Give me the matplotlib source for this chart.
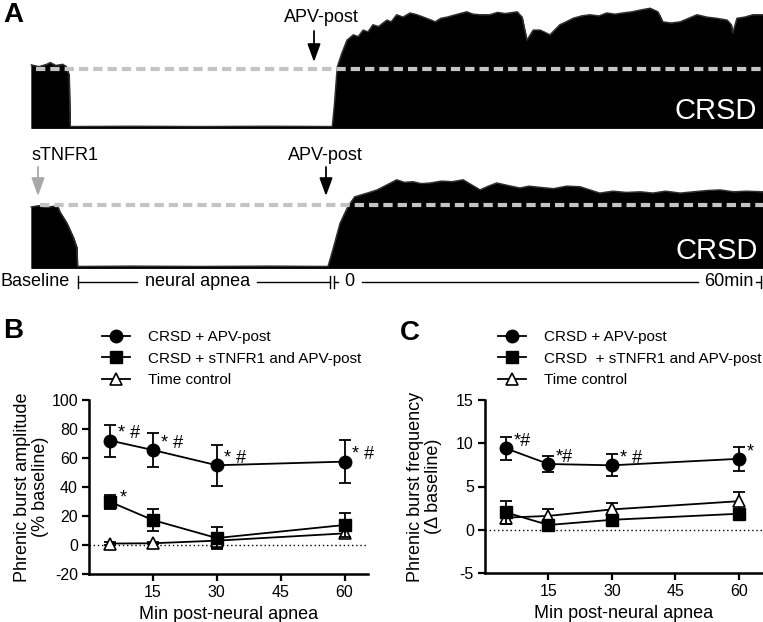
import matplotlib
matplotlib.use('Agg')
import matplotlib.pyplot as plt
from matplotlib.lines import Line2D

plt.rcParams['font.family'] = ['Liberation Sans', 'DejaVu Sans']
plt.rcParams['lines.scale_dashes'] = False
plt.rcParams['axes.unicode_minus'] = False

# ---------------- Panel A: integrated phrenic traces (time in min, amplitude in % baseline)
TOP_T = [-44.1, -43.0, -41.9, -41.4, -40.6, -39.6, -39.1, -38.7, -38.55,
         -38.4, -30.0, -20.0, -10.0, -1.2,
         -1.1, -0.8, -0.4, 0.2, 1.0, 1.9, 2.6, 3.3, 4.0, 4.7, 5.5, 6.7, 7.3, 8.1, 9.0,
         10.0, 11.0, 11.9, 12.8, 13.6, 14.4, 15.3, 16.5, 18.1, 19.0, 20.0, 21.4, 22.5,
         23.6, 25.3, 26.0, 26.5, 26.7, 27.6, 28.6, 30.0, 31.4, 32.3, 33.3, 34.5, 35.7,
         37.0, 38.1, 39.3, 40.4, 41.7, 42.9, 44.3, 45.4, 45.8, 46.1, 47.3, 48.6, 49.8,
         51.0, 52.4, 53.8, 55.3, 55.9, 56.1, 56.7, 57.8, 59.0, 60.4]
TOP_AMP = [107, 104, 108, 111, 106, 108, 104, 90, 3,
           2.5, 3, 2.5, 3, 2.5,
           3, 40, 103, 125, 149, 158, 155, 166, 163, 175, 172, 183, 180, 192, 188,
           195, 192, 188, 184, 180, 186, 188, 192, 197, 193, 192, 192, 196,
           194, 197, 188, 160, 149, 166, 166, 158, 175, 180, 186, 190, 192,
           190, 195, 193, 195, 197, 200, 203, 197, 188, 180, 178, 180, 186,
           192, 188, 186, 183, 175, 161, 186, 188, 192, 192]

BOT_T = [-44.1, -43.0, -42.0, -41.0, -40.3, -40.0, -39.0, -38.1, -37.6, -37.5,
         -37.4, -30.0, -20.0, -10.0, -1.8,
         -1.7, -1.0, 0.0, 1.1, 2.1, 3.0, 3.9, 5.3, 6.7, 8.1, 9.2, 10.4, 11.6, 12.9,
         14.5, 16.0, 17.6, 18.8, 20.0, 21.2, 22.4, 24.0, 25.7, 27.0, 28.6, 30.5,
         32.4, 34.3, 35.7, 37.1, 39.0, 40.9, 42.9, 44.7, 46.5, 48.6, 50.5, 52.4,
         54.3, 56.2, 58.1, 60.4]
BOT_AMP = [97, 99, 96, 98, 97, 89, 71, 49, 33, 2.5,
           2.5, 3, 2.5, 3, 2.5,
           3, 30, 71, 97, 113, 116, 119, 124, 132, 140, 136, 137, 134, 135,
           138, 137, 140, 132, 124, 130, 135, 131, 127, 130, 128, 126,
           130, 129, 124, 119, 122, 120, 121, 119, 122, 119, 121, 123,
           124, 121, 122, 121]
BASELINE_LEVEL = 100

# ---------------- Panels B and C
MINUTES = [5, 15, 30, 60]
SERIES_LABELS_B = ['CRSD + APV-post', 'CRSD + sTNFR1 and APV-post', 'Time control']
SERIES_LABELS_C = ['CRSD + APV-post', 'CRSD  + sTNFR1 and APV-post', 'Time control']

AMP_APV = [72, 65.5, 55, 57.5]
AMP_APV_ERR = [11, 12, 14, 15]
AMP_STNFR1 = [29.7, 17.2, 4.8, 13.8]
AMP_STNFR1_ERR = [5, 7.5, 7.6, 8.3]
AMP_TC = [1.0, 1.2, 3.0, 8.0]
AMP_TC_ERR = [0.8, 0.8, 5.0, 2.5]
AMP_SIG_APV = ['* #', '* #', '* #', '* #']
AMP_SIG_STNFR1 = ['*', '', '', '']

FREQ_APV = [9.4, 7.6, 7.45, 8.2]
FREQ_APV_ERR = [1.3, 0.9, 1.25, 1.4]
FREQ_STNFR1 = [2.0, 0.55, 1.15, 1.85]
FREQ_STNFR1_ERR = [1.3, 0.4, 0.4, 0.4]
FREQ_TC = [1.4, 1.6, 2.35, 3.3]
FREQ_TC_ERR = [0.6, 0.75, 0.75, 1.1]
FREQ_SIG_APV = ['*#', '*#', '* #', '*']
FREQ_SIG_STNFR1 = ['', '', '', '']

X_TICKS = [15, 30, 45, 60]
AMP_TICKS = [-20, 0, 20, 40, 60, 80, 100]
FREQ_TICKS = [-5, 0, 5, 10, 15]

W, H = 763, 622
fig = plt.figure(figsize=(W / 100, H / 100), dpi=100)


def fr(x0, y0, x1, y1):
    return [x0 / W, 1 - y1 / H, (x1 - x0) / W, (y1 - y0) / H]


T_LEFT, T_RIGHT = -340 / 7, 423 / 7


def trace_axes(box, t, amp, ylo, yhi, dash_start):
    ax = fig.add_axes(fr(*box))
    ax.fill_between(t, 0, amp, color='black', linewidth=0.6, edgecolor='black')
    ax.plot(t, amp, color='#303030', lw=1.0)
    ax.set_xlim(T_LEFT, T_RIGHT)
    ax.set_ylim(ylo, yhi)
    ax.axhline(BASELINE_LEVEL, xmin=dash_start / W, xmax=1, color='#c4c4c4',
               lw=3.0, dashes=(6.7, 3.6), zorder=5)
    ax.axis('off')
    return ax


trace_axes((0, 0, 763, 135), TOP_T, TOP_AMP, -7 / 59 * 100, 128 / 59 * 100, 36)
trace_axes((0, 140, 763, 275), BOT_T, BOT_AMP, -7 / 63 * 100, 128 / 63 * 100, 40)


def panel(box, d_apv, e_apv, d_st, e_st, d_tc, e_tc, sig_apv, sig_st, yticks,
          ylim, ylabel, labels, legend_xy, label_x):
    ax = fig.add_axes(fr(*box))
    ax.axhline(0, color='black', lw=1.0, ls=(0, (1, 2)), zorder=1)
    # time control (triangles)
    ax.errorbar(MINUTES, d_tc, yerr=e_tc, fmt='none', ecolor='black', elinewidth=1.3,
                capsize=4.5, capthick=1.3, zorder=3)
    ax.plot(MINUTES, d_tc, color='black', lw=1.3, marker='^', ms=9, mfc='white',
            mec='black', mew=1.2, zorder=3.5)
    # sTNFR1 (squares)
    ax.errorbar(MINUTES, d_st, yerr=e_st, fmt='none', ecolor='black', elinewidth=1.3,
                capsize=4.5, capthick=1.3, zorder=4)
    ax.plot(MINUTES, d_st, color='black', lw=1.3, marker='s', ms=8.2, zorder=4.5)
    # APV (circles)
    ax.errorbar(MINUTES, d_apv, yerr=e_apv, fmt='none', ecolor='black', elinewidth=1.3,
                capsize=4.5, capthick=1.3, zorder=5)
    ax.plot(MINUTES, d_apv, color='black', lw=1.3, marker='o', ms=9, zorder=5.5)
    for x, y, s in zip(MINUTES, d_apv, sig_apv):
        if s:
            ax.annotate(s, (x, y), xytext=(5.5, 5), textcoords='offset points',
                        fontsize=13, ha='left', va='center')
    for x, y, s in zip(MINUTES, d_st, sig_st):
        if s:
            ax.annotate(s, (x, y), xytext=(6.5, 3), textcoords='offset points',
                        fontsize=13, ha='left', va='center')
    ax.set_xlim(0, 65.5)
    ax.set_ylim(*ylim)
    ax.set_xticks(X_TICKS)
    ax.set_yticks(yticks)
    for s in ('top', 'right'):
        ax.spines[s].set_visible(False)
    for s in ('left', 'bottom'):
        ax.spines[s].set_linewidth(1.8)
    ax.tick_params(direction='out', length=5, width=1.6, labelsize=11.5, pad=3)
    ax.set_ylabel(ylabel, fontsize=13, linespacing=1.05)
    ax.yaxis.set_label_coords(label_x, 0.5)
    ax.set_xlabel('Min post-neural apnea', fontsize=13, labelpad=4)
    handles = [
        Line2D([], [], color='black', lw=1.3, marker='o', ms=9),
        Line2D([], [], color='black', lw=1.3, marker='s', ms=8.2),
        Line2D([], [], color='black', lw=1.3, marker='^', ms=9, mfc='white', mew=1.2),
    ]
    fig.legend(handles, labels, loc='upper left',
               bbox_to_anchor=(legend_xy[0] / W, 1 - legend_xy[1] / H),
               frameon=False, fontsize=11, handlelength=1.85, handletextpad=1.15,
               labelspacing=0.5, borderpad=0, borderaxespad=0)
    return ax


panel((89, 400, 368, 574), AMP_APV, AMP_APV_ERR, AMP_STNFR1, AMP_STNFR1_ERR,
      AMP_TC, AMP_TC_ERR, AMP_SIG_APV, AMP_SIG_STNFR1, AMP_TICKS, (-20, 100),
      'Phrenic burst amplitude\n(% baseline)', SERIES_LABELS_B, (102, 330), -0.145)
panel((485, 400, 762, 573), FREQ_APV, FREQ_APV_ERR, FREQ_STNFR1, FREQ_STNFR1_ERR,
      FREQ_TC, FREQ_TC_ERR, FREQ_SIG_APV, FREQ_SIG_STNFR1, FREQ_TICKS, (-5, 15),
      'Phrenic burst frequency\n(\u0394 baseline)', SERIES_LABELS_C, (498, 330), -0.155)

# ---------------- overlay for panel-A annotations
ov = fig.add_axes([0, 0, 1, 1])
ov.set_xlim(0, W)
ov.set_ylim(H, 0)
ov.axis('off')
ov.patch.set_alpha(0)

ov.text(3, 15, 'A', fontsize=20, fontweight='bold', ha='left', va='center')
ov.text(3, 331, 'B', fontsize=20, fontweight='bold', ha='left', va='center')
ov.text(400, 333, 'C', fontsize=20, fontweight='bold', ha='left', va='center')

ov.text(321, 18, 'APV-post', fontsize=13, ha='center', va='center')
ov.annotate('', xy=(314, 62), xytext=(314, 31),
            arrowprops=dict(arrowstyle='-|>,head_length=0.55,head_width=0.2',
                            color='black', lw=1.3, mutation_scale=20, shrinkA=0, shrinkB=0))
ov.text(325, 156, 'APV-post', fontsize=13, ha='center', va='center')
ov.annotate('', xy=(326, 196), xytext=(326, 167),
            arrowprops=dict(arrowstyle='-|>,head_length=0.55,head_width=0.2',
                            color='black', lw=1.3, mutation_scale=20, shrinkA=0, shrinkB=0))
ov.text(31, 156, 'sTNFR1', fontsize=13, ha='left', va='center')
ov.annotate('', xy=(38, 196), xytext=(38, 167),
            arrowprops=dict(arrowstyle='-|>,head_length=0.55,head_width=0.2',
                            color='#a8a8a8', lw=1.3, mutation_scale=20, shrinkA=0, shrinkB=0))
ov.text(757, 111, 'CRSD', fontsize=21, color='white', ha='right', va='center')
ov.text(758, 251, 'CRSD', fontsize=21, color='white', ha='right', va='center')

# timeline
ty = 282
ov.text(0, ty, 'Baseline', fontsize=13, ha='left', va='center')
ov.plot([78, 78], [ty - 6, ty + 6], color='black', lw=1)
ov.plot([78, 137], [ty, ty], color='black', lw=1)
ov.text(198, ty, 'neural apnea', fontsize=13, ha='center', va='center')
ov.plot([257, 330], [ty, ty], color='black', lw=1)
ov.plot([330, 330], [ty - 6, ty + 6], color='black', lw=1)
ov.plot([334, 334], [ty - 6, ty + 6], color='black', lw=1)
ov.plot([334, 338], [ty, ty], color='black', lw=1)
ov.text(349, ty, '0', fontsize=13, ha='center', va='center')
ov.plot([362, 698], [ty, ty], color='black', lw=1)
ov.text(729, ty, '60min', fontsize=13, ha='center', va='center')
ov.plot([756, 761], [ty, ty], color='black', lw=1)
ov.plot([761, 761], [ty - 6, ty + 6], color='black', lw=1)

fig.savefig('out.png', dpi=100)
